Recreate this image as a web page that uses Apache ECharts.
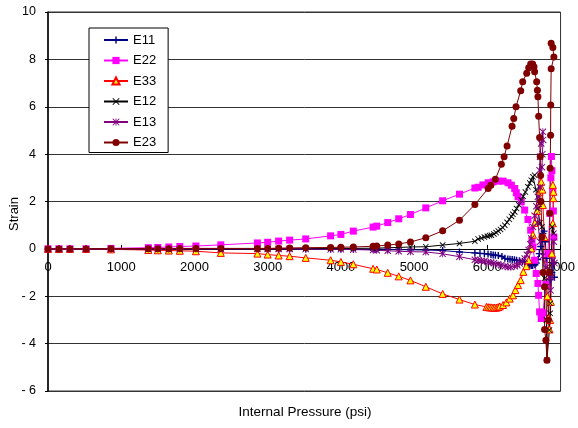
<!DOCTYPE html>
<html>
<head>
<meta charset="utf-8">
<script src="https://cdn.jsdelivr.net/npm/echarts@6/dist/echarts.min.js"></script>
<style>html,body{margin:0;padding:0;background:#fff;}#c{width:578px;height:428px;}</style>
</head>
<body>
<div id="c"></div>
<script>
// Shared pressure readings (psi) for the low-pressure part of the test
const pressureBase = [0,150,300,520,860,1370,1500,1650,1800,2020,2360,2860,3000,3150,3300,3520,3860,4000,4170,4440,4490,4640,4790,4950,5160,5390,5620,5830];

const e11Base = [0,0,0,0,0,0,0,0,0,0,0,0,0,0,0,-0.01,-0.01,-0.01,-0.01,-0.01,-0.01,-0.02,-0.03,-0.04,-0.05,-0.07,-0.13,-0.17];
const e11TailP = [5900,5960,6010,6050,6080,6110,6150,6200,6240,6280,6310,6340,6370,6400,6440,6480,6510,6550,6580,6600,6620,6650,6670,6690,6710,6730,6746,6759,6775,6793,6807,6827,6854,6882,6902,6916];
const e11TailV = [-0.19,-0.2,-0.22,-0.24,-0.26,-0.27,-0.28,-0.32,-0.4,-0.43,-0.44,-0.45,-0.46,-0.48,-0.5,-0.53,-0.56,-0.62,-0.68,-0.7,-0.7,-0.67,-0.6,-0.45,-0.2,0.1,0.37,0.65,0.75,0.3,-0.4,-0.9,-1.3,-1.0,-0.6,-1.2];

const e22Base = [0,0,0,0,0.02,0.05,0.06,0.08,0.1,0.12,0.17,0.25,0.28,0.33,0.37,0.42,0.55,0.61,0.75,0.92,0.96,1.11,1.27,1.45,1.73,2.03,2.31,2.57];
const e22TailP = [5875,5940,6011,6079,6147,6215,6283,6328,6374,6396,6419,6464,6510,6555,6592,6610,6623,6646,6668,6691,6701,6714,6736,6759,6800,6827,6854,6868,6875,6882,6895,6902,6909];
const e22TailV = [2.6,2.7,2.79,2.83,2.86,2.86,2.79,2.69,2.55,2.37,2.2,1.99,1.64,1.24,0.79,0.37,0.08,-0.48,-1.04,-1.46,-1.96,-2.66,-2.94,-2.7,-1.5,-0.2,1.5,3.0,3.9,3.3,2.4,1.6,0.5];

const e33Base = [0,0,0,0,-0.02,-0.05,-0.06,-0.07,-0.08,-0.1,-0.17,-0.2,-0.24,-0.28,-0.31,-0.38,-0.48,-0.55,-0.65,-0.84,-0.87,-1.01,-1.16,-1.33,-1.6,-1.9,-2.14,-2.35];
const e33TailP = [5988,6011,6033,6056,6079,6101,6124,6147,6170,6215,6260,6306,6351,6383,6419,6456,6492,6532,6565,6600,6623,6650,6678,6701,6714,6736,6752,6759,6780,6804,6820,6834,6850,6858,6868,6882,6895,6902,6902,6895];
const e33TailV = [-2.45,-2.46,-2.47,-2.47,-2.48,-2.48,-2.48,-2.46,-2.43,-2.37,-2.26,-2.1,-1.96,-1.74,-1.53,-1.32,-0.97,-0.73,-0.48,0.02,0.6,1.1,1.6,1.92,2.41,2.83,2.5,1.85,0.5,-0.9,-2.0,-2.9,-3.4,-3.0,-2.24,-0.2,1.08,2.14,2.41,2.7];

const e12Base = [0,0,0,0,0,0,0,0,0,0,0,0,0.01,0.01,0.01,0.01,0.02,0.02,0.02,0.03,0.03,0.05,0.06,0.08,0.09,0.16,0.23,0.32];
const e12TailP = [5875,5920,5960,6000,6030,6056,6090,6120,6150,6180,6210,6238,6270,6300,6330,6350,6374,6400,6430,6464,6490,6520,6555,6580,6600,6623,6646,6664,6691,6718,6746,6782,6800,6807,6814,6848,6858,6860,6868,6886,6909];
const e12TailV = [0.42,0.46,0.5,0.53,0.56,0.58,0.63,0.69,0.75,0.82,0.9,1.0,1.12,1.25,1.37,1.46,1.56,1.7,1.86,2.06,2.22,2.4,2.62,2.78,2.9,3.04,3.11,2.5,1.7,1.1,0.93,-1.24,-1.6,-3.0,-4.7,-3.43,-2.72,-2.3,-1.0,0.93,0.66];

const e13Base = [0,0,0,0,0,0,0,0,0,0,0,0,0,0,0,-0.01,-0.02,-0.02,-0.03,-0.05,-0.06,-0.08,-0.1,-0.12,-0.13,-0.21,-0.33,-0.46];
const e13TailP = [5875,5920,5960,6011,6050,6090,6147,6190,6240,6283,6320,6374,6410,6442,6475,6510,6540,6565,6585,6600,6623,6646,6670,6691,6714,6720,6736,6759,6762,6752,6746,6720,6705,6690,6720,6760,6800,6840,6864,6882,6895,6909,6916];
const e13TailV = [-0.48,-0.5,-0.52,-0.55,-0.58,-0.61,-0.65,-0.69,-0.73,-0.76,-0.76,-0.73,-0.69,-0.62,-0.52,-0.41,-0.25,-0.05,0.2,0.44,0.93,1.4,1.8,2.2,3.32,3.89,4.45,4.94,4.6,4.0,3.45,2.6,1.9,1.1,0.3,-0.3,-0.8,-1.2,-1.75,-1.2,-0.5,0.3,-0.6];

const e23Base = [0,0,0,0,0.01,0.01,0.01,0.01,0.02,0.02,0.02,0.02,0.02,0.03,0.04,0.05,0.06,0.07,0.08,0.11,0.12,0.16,0.21,0.29,0.47,0.76,1.21,1.87];
const e23TailP = [6011,6048,6110,6192,6229,6270,6338,6361,6392,6456,6483,6538,6565,6592,6619,6637,6646,6674,6684,6691,6701,6714,6723,6728,6732,6746,6759,6780,6782,6800,6814,6834,6848,6854,6858,6864,6866,6872,6909,6895,6872];
const e23TailV = [2.55,2.69,2.94,3.57,3.89,4.34,5.18,5.5,6.0,6.68,7.06,7.41,7.65,7.8,7.8,7.69,7.48,7.06,6.7,6.42,5.6,4.7,3.9,3.1,2.0,0.5,-1.0,-1.6,-3.4,-3.86,-4.7,-3.0,-1.0,1.5,3.4,4.8,6.07,7.6,8.1,8.5,8.68];

const seriesNames = ['E11','E22','E33','E12','E13','E23'];
const xTitle = 'Internal Pressure (psi)';
const yTitle = 'Strain';

function pairs(baseV, tailP, tailV) {
  const xs = pressureBase.concat(tailP);
  const ys = baseV.concat(tailV);
  return xs.map((x, i) => [x, ys[i]]);
}

const PLUS = 'path://M4,0 L6,0 L6,4 L10,4 L10,6 L6,6 L6,10 L4,10 L4,6 L0,6 L0,4 L4,4 Z';
const CROSS = 'path://M0,1 L1,0 L10,9 L9,10 Z M9,0 L10,1 L1,10 L0,9 Z';
const STAR = 'path://M0,1 L1,0 L10,9 L9,10 Z M9,0 L10,1 L1,10 L0,9 Z M4.4,0 L5.6,0 L5.6,10 L4.4,10 Z';

const styles = [
  {line:'#000080', fill:'#000080', border:'#000080', bw:0, symbol:PLUS, size:7},
  {line:'#FF00FF', fill:'#FF00FF', border:'#FF00FF', bw:0, symbol:'rect', size:7},
  {line:'#FF0000', fill:'#FFFF00', border:'#FF0000', bw:1, symbol:'triangle', size:7},
  {line:'#000000', fill:'#000000', border:'#000000', bw:0, symbol:CROSS, size:6},
  {line:'#800080', fill:'#800080', border:'#800080', bw:0, symbol:STAR, size:7},
  {line:'#800000', fill:'#800000', border:'#800000', bw:0, symbol:'circle', size:7}
];
const dataSets = [
  pairs(e11Base, e11TailP, e11TailV),
  pairs(e22Base, e22TailP, e22TailV),
  pairs(e33Base, e33TailP, e33TailV),
  pairs(e12Base, e12TailP, e12TailV),
  pairs(e13Base, e13TailP, e13TailV),
  pairs(e23Base, e23TailP, e23TailV)
];

const FONT = '"Liberation Sans", Arial, sans-serif';
const GRID_TOP = 12, GRID_H = 379, Y_MIN = -6, Y_MAX = 10;
// distance from grid bottom to the zero line, so the x axis sits on y = 0
const zeroOffset = GRID_H * (0 - Y_MIN) / (Y_MAX - Y_MIN);

const chart = echarts.init(document.getElementById('c'), null, {renderer:'canvas'});
chart.setOption({
  animation: false,
  backgroundColor: '#ffffff',
  grid: {left: 48, top: GRID_TOP, width: 515, height: GRID_H, show: true, borderColor: '#333', borderWidth: 1, backgroundColor: 'transparent'},
  xAxis: {
    type: 'value', min: 0, max: 7000, interval: 1000,
    position: 'bottom', offset: -zeroOffset,
    axisLine: {show: true, onZero: false, lineStyle: {color: '#000', width: 1}},
    axisTick: {show: true, inside: true, length: 4, lineStyle: {color: '#000'}},
    axisLabel: {color: '#000', fontSize: 13, fontFamily: FONT, margin: 12, formatter: v => String(v)},
    splitLine: {show: false}
  },
  yAxis: {
    type: 'value', min: Y_MIN, max: Y_MAX, interval: 2,
    axisLine: {show: true, onZero: false, lineStyle: {color: '#000', width: 1.5}},
    axisTick: {show: true, inside: false, length: 3, lineStyle: {color: '#000'}},
    axisLabel: {color: '#000', fontSize: 12.5, fontFamily: FONT, margin: 12,
      formatter: v => v < 0 ? '- ' + Math.abs(v) : String(v)},
    splitLine: {show: true, lineStyle: {color: '#333', width: 1}}
  },
  legend: {
    orient: 'vertical', left: 89, top: 28,
    data: seriesNames,
    itemWidth: 24, itemHeight: 9, itemGap: 6.5,
    padding: [5, 12, 3, 14],
    backgroundColor: '#fff', borderColor: '#000', borderWidth: 1,
    textStyle: {color: '#000', fontSize: 13, fontFamily: FONT, lineHeight: 14}
  },
  graphic: [
    {type: 'text', x: 14, y: 214, rotation: Math.PI / 2,
     style: {text: yTitle, fill: '#000', font: '13px ' + FONT, align: 'center', verticalAlign: 'middle'}, z: 10},
    {type: 'text', x: 305, y: 412,
     style: {text: xTitle, fill: '#000', font: '13.5px ' + FONT, align: 'center', verticalAlign: 'middle'}, z: 10}
  ],
  series: seriesNames.map((name, i) => ({
    name, type: 'line', data: dataSets[i],
    symbol: styles[i].symbol, symbolSize: styles[i].size, showAllSymbol: true,
    lineStyle: {color: styles[i].line, width: 1},
    itemStyle: {color: styles[i].fill, borderColor: styles[i].border, borderWidth: styles[i].bw},
    emphasis: {disabled: true}
  }))
});
</script>
</body>
</html>
